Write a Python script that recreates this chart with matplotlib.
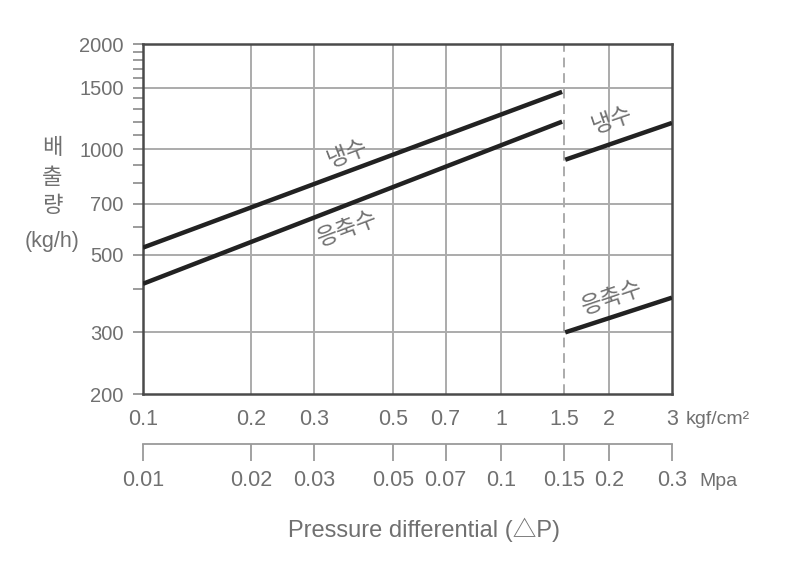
import matplotlib
matplotlib.use('Agg')
import matplotlib.pyplot as plt
from matplotlib.ticker import NullLocator

plt.rcParams['font.family'] = ['Liberation Sans Narrow', 'Liberation Sans', 'Noto Sans CJK KR', 'DejaVu Sans']
kr = ['Noto Sans CJK KR', 'DejaVu Sans']
gray = '#707070'

# pressure axis (kgf/cm2), with the same points in MPa
x_ticks = [0.1, 0.2, 0.3, 0.5, 0.7, 1, 1.5, 2, 3]
x_labels = ['0.1', '0.2', '0.3', '0.5', '0.7', '1', '1.5', '2', '3']
mpa_labels = ['0.01', '0.02', '0.03', '0.05', '0.07', '0.1', '0.15', '0.2', '0.3']
# discharge axis (kg/h)
y_ticks = [200, 300, 500, 700, 1000, 1500, 2000]
y_minor = [400, 600, 800, 900, 1100, 1200, 1300, 1400, 1600, 1700, 1800, 1900]

# 냉수 (cold water) and 응축수 (condensate), two pressure ranges
cold_lo_x = [0.1, 1.48]
cold_lo_y = [524, 1460]
cond_lo_x = [0.1, 1.48]
cond_lo_y = [413, 1200]
cold_hi_x = [1.51, 3]
cold_hi_y = [934, 1190]
cond_hi_x = [1.51, 3]
cond_hi_y = [300, 377]

fig = plt.figure(figsize=(8, 5.8), dpi=100)
ax = fig.add_axes([143/800, 1-394/580, 529/800, 350/580])
ax.set_xscale('log')
ax.set_yscale('log')
ax.set_xlim(0.1, 3)
ax.set_ylim(200, 2000)

# grid
for v in x_ticks[1:-1]:
    ls = (0, (5, 3)) if v == 1.5 else '-'
    ax.axvline(v, color='#ababab', lw=1.4, ls=ls, zorder=1)
for v in y_ticks[1:-1]:
    ax.axhline(v, color='#ababab', lw=1.4, zorder=1)

lw = 3.2
ax.plot(cold_lo_x, cold_lo_y, color='#222222', lw=lw, solid_capstyle='butt', zorder=3)
ax.plot(cond_lo_x, cond_lo_y, color='#222222', lw=lw, solid_capstyle='butt', zorder=3)
ax.plot(cold_hi_x, cold_hi_y, color='#222222', lw=lw, solid_capstyle='butt', zorder=3)
ax.plot(cond_hi_x, cond_hi_y, color='#222222', lw=lw, solid_capstyle='butt', zorder=3)

ax.text(0.373, 975, '냉수', family=kr, fontsize=16.5, color=gray, rotation=21,
        ha='center', va='center', rotation_mode='anchor')
ax.text(0.373, 594, '응축수', family=kr, fontsize=16.5, color=gray, rotation=21,
        ha='center', va='center', rotation_mode='anchor')
ax.text(2.035, 1211, '냉수', family=kr, fontsize=16.5, color=gray, rotation=19,
        ha='center', va='center', rotation_mode='anchor')
ax.text(2.035, 377, '응축수', family=kr, fontsize=16.5, color=gray, rotation=19,
        ha='center', va='center', rotation_mode='anchor')

for s in ax.spines.values():
    s.set_color('#4a4a4a')
    s.set_linewidth(1.8)

ax.set_xticks(x_ticks, x_labels)
ax.xaxis.set_minor_locator(NullLocator())
ax.tick_params(axis='x', length=0, pad=11, labelsize=15.5, labelcolor=gray)
ax.set_yticks(y_ticks, [str(v) for v in y_ticks])
ax.set_yticks(y_minor, minor=True)
ax.yaxis.set_minor_formatter(plt.NullFormatter())
ax.tick_params(axis='y', which='both', direction='out', length=7, width=1.2,
               color='#8a8a8a', pad=7, labelsize=14.5, labelcolor=gray)

# MPa scale below
sec = ax.secondary_xaxis(-0.143, functions=(lambda x: x / 10, lambda x: x * 10))
sec.set_xticks([v / 10 for v in x_ticks], mpa_labels)
sec.xaxis.set_minor_locator(NullLocator())
sec.spines['bottom'].set_color('#9a9a9a')
sec.spines['bottom'].set_linewidth(1.3)
sec.tick_params(axis='x', direction='out', length=12, width=1.3, color='#9a9a9a',
                pad=7, labelsize=15.5, labelcolor=gray)

fig.text(686/800, 1-419/580, 'kgf/cm²', fontsize=14, color=gray, va='center')
fig.text(699/800, 1-482/580, 'Mpa', fontsize=14, color=gray, va='center')
fig.text(424/800, 1-530/580, 'Pressure differential (△P)', fontsize=17, color=gray,
         ha='center', va='center')

for t, yy in zip(['배', '출', '량'], [147, 177, 206]):
    fig.text(52/800, 1-yy/580, t, family=kr, fontsize=16, color=gray, ha='center', va='center')
fig.text(52/800, 1-241/580, '(kg/h)', fontsize=15.5, color=gray, ha='center', va='center')

fig.savefig('out.png', dpi=100)
